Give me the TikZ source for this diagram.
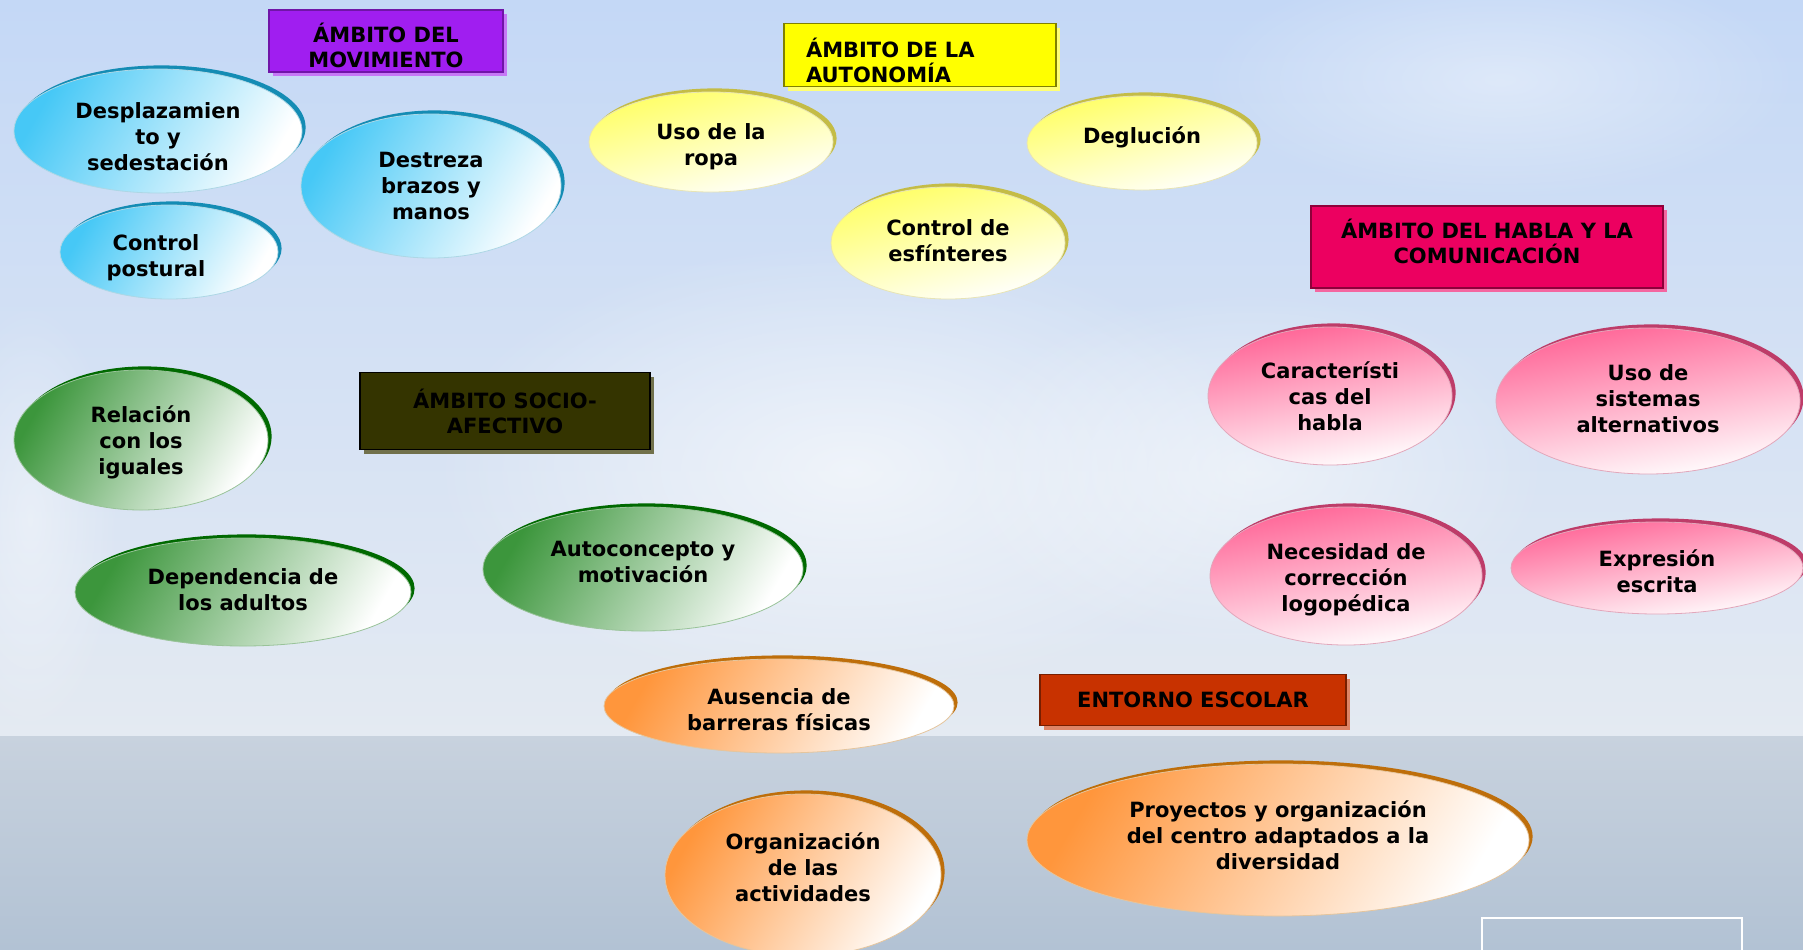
\documentclass[tikz,border=0pt]{standalone}
\usepackage{fontspec}
\setmainfont{DejaVu Sans}
\usetikzlibrary{shapes.geometric,shadows,fadings}

\definecolor{skytop}{RGB}{196,216,246}
\definecolor{skylow}{RGB}{228,234,242}
\definecolor{seatop}{RGB}{200,210,222}
\definecolor{seabot}{RGB}{178,194,212}

\definecolor{bluefill}{RGB}{70,200,246}
\definecolor{bluerim}{RGB}{20,140,180}
\definecolor{yelfill}{RGB}{255,255,100}
\definecolor{yelrim}{RGB}{196,188,70}
\definecolor{pinkfill}{RGB}{255,100,150}
\definecolor{pinkrim}{RGB}{190,60,105}
\definecolor{grnfill}{RGB}{60,150,60}
\definecolor{grnrim}{RGB}{0,105,0}
\definecolor{orgfill}{RGB}{255,150,60}
\definecolor{orgrim}{RGB}{190,110,10}

\definecolor{movfill}{RGB}{160,30,240}
\definecolor{autfill}{RGB}{255,255,0}
\definecolor{hablafill}{RGB}{236,0,96}
\definecolor{sociofill}{RGB}{52,52,0}
\definecolor{entfill}{RGB}{200,50,0}

\tikzfading[name=cloudfade, inner color=transparent!0, outer color=transparent!100]

\begin{document}
\begin{tikzpicture}[x=0.5pt, y=-0.5pt,
  bubble/.style={ellipse, inner sep=0pt, align=center, text depth=0pt,
    font=\bfseries\fontsize{10.5}{13}\selectfont},
  dims/.style 2 args={minimum width=#1pt, minimum height=#2pt},
  bluebub/.style={bubble, draw=bluerim!35, top color=bluefill, middle color=bluefill!25, bottom color=white,
    shading angle=60, general shadow={shadow xshift=1.8pt, shadow yshift=1.8pt, fill=bluerim}},
  yelbub/.style={bubble, draw=yelrim!40, top color=yelfill, middle color=yelfill!45, bottom color=white,
    shading angle=15, general shadow={shadow xshift=1.8pt, shadow yshift=1.8pt, fill=yelrim}},
  pinkbub/.style={bubble, draw=pinkrim!45, top color=pinkfill, middle color=pinkfill!40, bottom color=white,
    shading angle=10, general shadow={shadow xshift=1.8pt, shadow yshift=1.8pt, fill=pinkrim}},
  grnbub/.style={bubble, draw=grnrim!40, top color=grnfill, middle color=grnfill!20, bottom color=white,
    shading angle=60, general shadow={shadow xshift=1.8pt, shadow yshift=1.8pt, fill=grnrim}},
  orgbub/.style={bubble, draw=orgrim!40, top color=orgfill, middle color=orgfill!25, bottom color=white,
    shading angle=60, general shadow={shadow xshift=1.8pt, shadow yshift=1.8pt, fill=orgrim}},
  head/.style={rectangle, inner sep=0pt, align=center, line width=0.8pt,
    font=\bfseries\fontsize{10.5}{12.5}\selectfont},
]

\useasboundingbox (0,0) rectangle (1803,949);
\clip (0,0) rectangle (1803,949);

% fondo
\fill[top color=skytop, bottom color=skylow] (0,0) rectangle (1803,736);
\fill[top color=seatop, bottom color=seabot] (0,736) rectangle (1803,949);
\fill[white, opacity=0.6, path fading=cloudfade] (850,470) ellipse (420 and 230);
\fill[white, opacity=0.5, path fading=cloudfade] (1250,470) ellipse (300 and 180);
\fill[white, opacity=0.4, path fading=cloudfade] (1500,80) ellipse (300 and 120);
\fill[white, opacity=0.4, path fading=cloudfade] (30,520) ellipse (90 and 220);
\draw[white, thick] (1482,918) rectangle (1742,970);

% ambito del movimiento
\node[head, fill=movfill, draw=movfill!70!black, dims={117}{31}, text height=26.9pt, text depth=0pt,
  general shadow={shadow xshift=2pt, shadow yshift=-2pt, fill=movfill!60!white}] (mov) at (386,41) {ÁMBITO DEL\\MOVIMIENTO};
\node[bluebub, dims={144}{62}, text height=39.8pt] (despl) at (158,131) {Desplazamien\\to y\\sedestación};
\node[bluebub, dims={130}{72}] (destr) at (431,186) {Destreza\\brazos y\\manos};
\node[bluebub, dims={109}{47}, text height=24.4pt] (postu) at (169,252) {Control\hspace*{13pt}\\postural\hspace*{13pt}};

% ambito de la autonomia
\node[head, fill=autfill, draw=autfill!50!black, dims={136}{31.5}, text width=114pt, align=left,
  text height=15.6pt,
  general shadow={shadow xshift=2pt, shadow yshift=-2pt, fill=autfill!55!white}] (aut) at (920,55) {ÁMBITO DE LA\\AUTONOMÍA};
\node[yelbub, dims={122}{50}, text height=23.8pt] (ropa) at (711,142) {Uso de la\\ropa};
\node[yelbub, dims={115}{47}, text depth=8pt] (deglu) at (1142,143) {Deglución};
\node[yelbub, dims={117}{56}, text depth=2pt] (esfin) at (948,243) {Control de\\esfínteres};

% ambito del habla y la comunicacion
\node[head, fill=hablafill, draw=hablafill!60!black, dims={176}{41}, text depth=5.5pt,
  general shadow={shadow xshift=2pt, shadow yshift=-2pt, fill=hablafill!60!white}] (habla) at (1487,247) {ÁMBITO DEL HABLA Y LA\\COMUNICACIÓN};
\node[pinkbub, dims={122}{69}] (carac) at (1330,396) {Característi\\cas del\\habla};
\node[pinkbub, dims={152}{73}, text depth=2.5pt] (siste) at (1648,401) {Uso de\\sistemas\\alternativos};
\node[pinkbub, dims={136}{69}, text height=35.7pt] (logop) at (1346,576) {Necesidad de\\corrección\\logopédica};
\node[pinkbub, dims={146}{46}, text height=24.8pt] (escri) at (1657,568) {Expresión\\escrita};

% ambito socio-afectivo
\node[head, fill=sociofill, draw=black, dims={145}{38.5},
  general shadow={shadow xshift=2pt, shadow yshift=-2pt, fill=sociofill!70!white}] (socio) at (505,411) {ÁMBITO SOCIO-\\AFECTIVO};
\node[grnbub, dims={127}{70}] (igual) at (141,440) {Relación\\con los\\iguales};
\node[grnbub, dims={168}{54}, text depth=2pt] (adult) at (243,592) {Dependencia de\\los adultos};
\node[grnbub, dims={160}{62}, text depth=6.9pt] (autoc) at (643,569) {Autoconcepto y\\motivación};

% entorno escolar
\node[head, fill=entfill, draw=entfill!60!black, dims={153}{25.5},
  general shadow={shadow xshift=2pt, shadow yshift=-2pt, fill=entfill!60!white}] (entor) at (1193,700) {ENTORNO ESCOLAR};
\node[orgbub, dims={175}{47}, text height=24.4pt] (barre) at (779,706) {Ausencia de\\barreras físicas};
\node[orgbub, dims={138}{81}, text depth=8pt] (activ) at (803,875) {Organización\\de las\\actividades};
\node[orgbub, dims={251}{76}, text depth=4.6pt] (proye) at (1278,840) {Proyectos y organización\\del centro adaptados a la\\diversidad};

\end{tikzpicture}
\end{document}
